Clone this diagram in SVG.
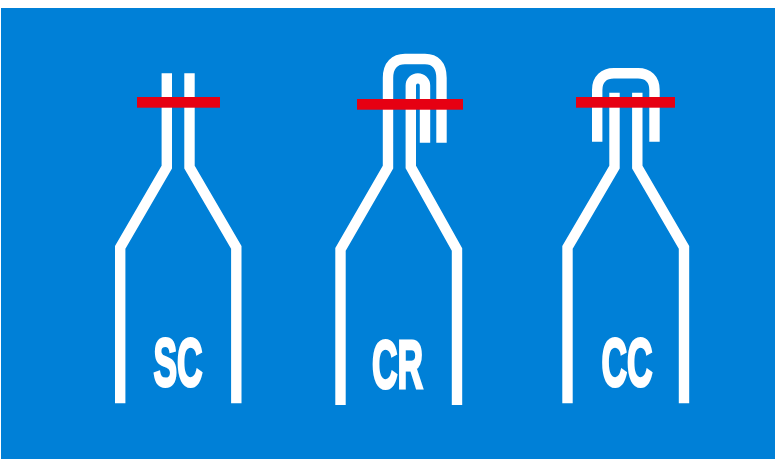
<svg xmlns="http://www.w3.org/2000/svg" width="775" height="459" viewBox="0 0 775 459">
<style>
.w{fill:none;stroke:#fff;stroke-width:10.4;stroke-linejoin:miter;stroke-linecap:butt}
.r{fill:#e60012}
.t{fill:#fff;stroke:#fff;stroke-width:3;font-family:"Liberation Sans",Arial,sans-serif;font-weight:700;font-size:68px;text-anchor:middle}
</style>
<rect x="1" y="8" width="774" height="451" fill="#0080d7"/>
<g id="connectors"></g>
<g id="node-sc">
<path class="w" d="M120.200 403.300V247.500L166.800 167V73.300"/>
<path class="w" d="M236.300 403.300V247.500L189.500 167V73.300"/>
<rect class="r" x="137" y="97" width="83" height="10.700"/>
<text class="t" transform="translate(178 385.500) scale(.52 1)">SC</text>
</g>
<g id="node-cr">
<path class="w" d="M340.500 405V249.500L388 167V78C388 65 395 59 405 59H425C435 59 441.500 65 441.500 78V142.700"/>
<path class="w" d="M457 405V249.500L410.800 167V85.500A7.100 7.100 0 0 1 425 85.500V142.700"/>
<rect class="r" x="357" y="99" width="106" height="10.700"/>
<text class="t" transform="translate(397.500 387.500) scale(.52 1)">CR</text>
</g>
<g id="node-cc">
<path class="w" d="M567.500 403.300V247.500L614.500 167V92.700"/>
<path class="w" d="M684 403.300V247.500L637.300 167V92.700"/>
<path class="w" d="M597.200 141.700V90C597.200 79 604 73.300 614 73.300H638C648 73.300 654.500 79 654.500 90V141.700"/>
<rect class="r" x="576" y="97" width="99" height="10.700"/>
<text class="t" transform="translate(627 385.500) scale(.52 1)">CC</text>
</g>
</svg>
